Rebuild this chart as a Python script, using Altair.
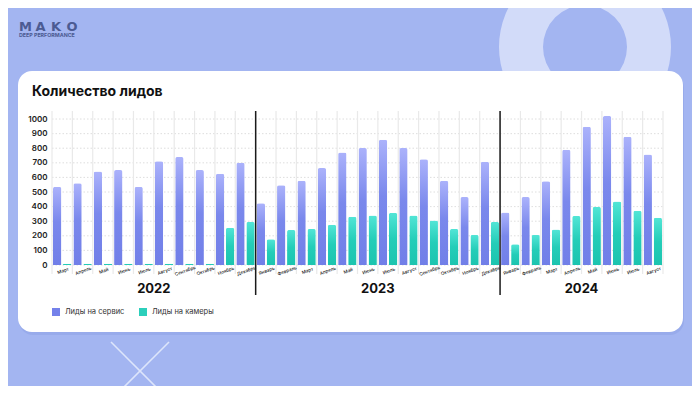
import altair as alt
import pandas as pd

# ---------------- data ----------------
years = ["2022", "2023", "2024"]
months_2022 = ["Март", "Апрель", "Май", "Июнь", "Июль", "Август", "Сентябрь", "Октябрь", "Ноябрь", "Декабрь"]
months_2023 = ["Январь", "Февраль", "Март", "Апрель", "Май", "Июнь", "Июль", "Август", "Сентябрь", "Октябрь", "Ноябрь", "Декабрь"]
months_2024 = ["Январь", "Февраль", "Март", "Апрель", "Май", "Июнь", "Июль", "Август"]

service_2022 = [535, 560, 640, 650, 535, 710, 740, 650, 625, 700]
service_2023 = [423, 547, 577, 664, 771, 801, 858, 801, 725, 577, 465, 707]
service_2024 = [359, 465, 574, 789, 947, 1021, 879, 757]

cameras_2022 = [8, 8, 8, 8, 8, 8, 8, 8, 256, 295]
cameras_2023 = [176, 240, 247, 275, 330, 339, 357, 339, 304, 247, 206, 295]
cameras_2024 = [142, 206, 243, 336, 398, 435, 371, 323]

series_names = ["Лиды на сервис", "Лиды на камеры"]
title_text = "Количество лидов"
logo_letters = ["M", "A", "K", "O"]
logo_sub_text = "DEEP PERFORMANCE"
y_ticks = list(range(0, 1001, 100))

# ---------------- table ----------------
rows = []
groups = [
    ("2022", months_2022, service_2022, cameras_2022),
    ("2023", months_2023, service_2023, cameras_2023),
    ("2024", months_2024, service_2024, cameras_2024),
]
year_anchor = []
for yr, months, svc, cam in groups:
    for m, s, c in zip(months, svc, cam):
        key = f"{yr}|{m}"
        rows.append({"key": key, "year": yr, "month": m, "series": series_names[0], "value": s})
        rows.append({"key": key, "year": yr, "month": m, "series": series_names[1], "value": c})
    year_anchor.append({"year": yr, "key": f"{yr}|{months[len(months) // 2]}"})
df = pd.DataFrame(rows)
keys = list(dict.fromkeys(df["key"]))
df_keys = pd.DataFrame({"key": keys})
df_years = pd.DataFrame(year_anchor)
df_sep = pd.DataFrame({"key": [f"{g[0]}|{g[1][0]}" for g in groups[1:]]})
df_ticks = pd.DataFrame({"value": y_ticks})
one = pd.DataFrame({"a": [0]})

FONT = "Inter"
W, H = 611, 154

x_scale = alt.Scale(domain=keys, paddingInner=0, paddingOuter=0)
xo_scale = alt.Scale(domain=series_names, paddingInner=0.17, paddingOuter=0.1)
y_scale = alt.Scale(domain=[0, 1055], nice=False)

x_axis = alt.Axis(
    labelExpr="split(datum.value, '|')[1]", labelAngle=-20, labelFontSize=4.6,
    labelFont=FONT, labelFontWeight=500, labelColor="#222222", labelPadding=3,
    labelAlign="center", labelBaseline="top", domain=False, ticks=False, grid=False,
    labelOverlap=False, title=None, zindex=2,
)
y_axis = alt.Axis(
    values=y_ticks, format="d", labelFontSize=8, labelFontWeight=600, labelFont=FONT,
    labelColor="#222222", domain=False, ticks=False, labelPadding=5,
    grid=False, title=None, zindex=2,
)


def X(bp=None):
    if bp is None:
        return alt.X("key:N", scale=x_scale, axis=x_axis)
    return alt.X("key:N", scale=x_scale, axis=x_axis, bandPosition=bp)


def Y():
    return alt.Y("value:Q", scale=y_scale, axis=y_axis)


grad_service = alt.LinearGradient(
    gradient="linear",
    stops=[
        alt.GradientStop(color="#abb2fb", offset=0),
        alt.GradientStop(color="#7a88ec", offset=0.45),
        alt.GradientStop(color="#717fe8", offset=1),
    ],
    x1=0, x2=0, y1=0, y2=1,
)
grad_cam = alt.LinearGradient(
    gradient="linear",
    stops=[
        alt.GradientStop(color="#52e5d6", offset=0),
        alt.GradientStop(color="#24cdb8", offset=0.5),
        alt.GradientStop(color="#1cc4af", offset=1),
    ],
    x1=0, x2=0, y1=0, y2=1,
)

# ---------------- decorations ----------------
ring = alt.Chart(one).mark_arc(
    theta=0, theta2=6.2832, radius=86, radius2=42, color="#d2dbf9"
).encode(x=alt.value(533), y=alt.value(-64))

cross1 = alt.Chart(one).mark_rule(color="#dde5fb", strokeWidth=1.6).encode(
    x=alt.value(59), y=alt.value(231), x2=alt.value(117), y2=alt.value(289))
cross2 = alt.Chart(one).mark_rule(color="#dde5fb", strokeWidth=1.6).encode(
    x=alt.value(117), y=alt.value(231), x2=alt.value(59), y2=alt.value(289))

logo_layers = []
for letter, lx in zip(logo_letters, [-26.5, -11.5, 4, 20]):
    logo_layers.append(
        alt.Chart(one).mark_text(
            text=letter, font="DejaVu Sans", fontSize=13, fontWeight="bold",
            color="#4c5b93", align="center", baseline="alphabetic",
        ).encode(x=alt.value(lx), y=alt.value(-80.5))
    )
logo_sub = alt.Chart(one).mark_text(
    text=logo_sub_text, font=FONT, fontSize=5.3, fontWeight="bold", color="#4c5b93",
    align="left", baseline="alphabetic",
).encode(x=alt.value(-33), y=alt.value(-74))

shadow = alt.Chart(one).mark_rect(color="#8c9fe4", opacity=0.45, cornerRadius=14).encode(
    x=alt.value(-33), x2=alt.value(632), y=alt.value(-37), y2=alt.value(224))
card = alt.Chart(one).mark_rect(color="white", cornerRadius=14).encode(
    x=alt.value(-34), x2=alt.value(631), y=alt.value(-40), y2=alt.value(221))

title = alt.Chart(one).mark_text(
    text=title_text, font=FONT, fontSize=14, fontWeight="bold", color="#111111",
    align="left", baseline="alphabetic",
).encode(x=alt.value(-20), y=alt.value(-15))

# ---------------- grid & separators ----------------
hgrid = alt.Chart(df_ticks).mark_rule(
    color="#d6d6d6", strokeWidth=0.8, strokeDash=[1.5, 2]
).encode(y=Y(), x=alt.value(0), x2=alt.value(W))

vgrid = alt.Chart(df_keys).mark_rule(color="#e9e9e9", strokeWidth=1.2).encode(
    x=X(0), y=alt.value(0), y2=alt.value(163),
)
vgrid_end = alt.Chart(one).mark_rule(color="#e9e9e9", strokeWidth=1.2).encode(
    x=alt.value(W), y=alt.value(0), y2=alt.value(163))

separators = alt.Chart(df_sep).mark_rule(color="#1a1a1a", strokeWidth=1.5).encode(
    x=X(0), y=alt.value(0), y2=alt.value(184),
)

# ---------------- bars ----------------
xo_enc = alt.XOffset("series:N", scale=xo_scale)

bars_service = alt.Chart(df).transform_filter(alt.datum.series == series_names[0]).mark_bar(
    color=grad_service, cornerRadiusTopLeft=2, cornerRadiusTopRight=2
).encode(x=X(), xOffset=xo_enc, y=Y())

bars_cam = alt.Chart(df).transform_filter(alt.datum.series == series_names[1]).mark_bar(
    color=grad_cam, cornerRadiusTopLeft=2, cornerRadiusTopRight=2
).encode(x=X(), xOffset=xo_enc, y=Y())

# zero-height bars that carry the legend
legend_layer = alt.Chart(df).mark_bar().encode(
    x=X(),
    xOffset=xo_enc,
    y=alt.value(H), y2=alt.value(H),
    color=alt.Color(
        "series:N",
        scale=alt.Scale(domain=series_names, range=["#7481ea", "#2ccfbb"]),
        legend=alt.Legend(
            title=None, orient="none", legendX=0, legendY=197, direction="horizontal",
            symbolType="square", symbolSize=64, symbolStrokeWidth=0,
            labelFontSize=7.5, labelFont=FONT, labelColor="#333333",
            columnPadding=14, labelOffset=5, zindex=2,
        ),
    ),
)

year_labels = alt.Chart(df_years).mark_text(
    font=FONT, fontSize=13, fontWeight="bold", color="#111111", baseline="middle"
).encode(
    x=X(0),
    y=alt.value(178),
    text="year:N",
)

chart = alt.layer(
    ring, cross1, cross2, *logo_layers, logo_sub, shadow, card, title,
    hgrid, vgrid, vgrid_end, bars_service, bars_cam, legend_layer, separators, year_labels,
).properties(
    width=W, height=H,
    padding={"left": 44, "top": 103, "right": 29, "bottom": 121},
    autosize=alt.AutoSizeParams(type="none"),
    background="#a3b5f1",
).configure_view(stroke=None)

chart.save("out.html", embed_options={"renderer": "svg", "actions": False})
